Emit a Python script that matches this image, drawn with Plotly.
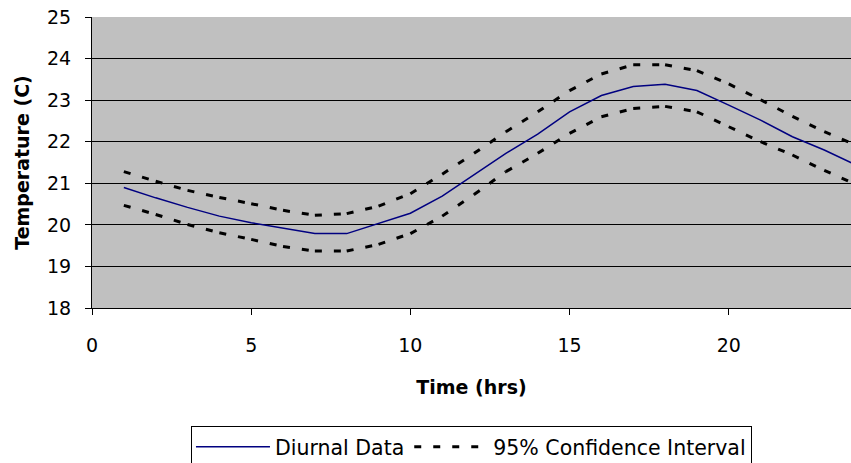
import plotly.graph_objects as go

hours = list(range(1, 25))
diurnal = [20.90, 20.65, 20.42, 20.21, 20.05, 19.92, 19.79, 19.79, 20.04, 20.28,
           20.69, 21.20, 21.72, 22.18, 22.72, 23.11, 23.33, 23.38, 23.23, 22.88,
           22.52, 22.12, 21.80, 21.44]
ci_upper = [21.28, 21.05, 20.83, 20.66, 20.51, 20.35, 20.23, 20.27, 20.45, 20.75,
            21.22, 21.72, 22.24, 22.72, 23.23, 23.63, 23.85, 23.85, 23.71, 23.39,
            23.01, 22.61, 22.24, 21.92]
ci_lower = [20.47, 20.25, 20.01, 19.81, 19.65, 19.48, 19.37, 19.37, 19.53, 19.79,
            20.21, 20.73, 21.28, 21.72, 22.20, 22.60, 22.80, 22.85, 22.72, 22.36,
            22.00, 21.68, 21.31, 20.97]

FONT = "DejaVu Sans"
fig = go.Figure()

fig.add_trace(go.Scatter(x=hours, y=diurnal, mode="lines", name="Diurnal Data",
                         line=dict(color="#000080", width=1.5)))

# Excel restarts the dash pattern on each segment; mimic with per-segment traces
first = True
for series in (ci_upper, ci_lower):
    for i in range(len(hours) - 1):
        fig.add_trace(go.Scatter(
            x=hours[i:i + 2], y=series[i:i + 2], mode="lines",
            name="95% Confidence Interval", legendgroup="ci",
            showlegend=first,
            line=dict(color="black", width=3, dash="7px,12px")))
        first = False

fig.update_layout(
    width=851, height=463,
    margin=dict(l=92, r=0, t=17, b=155, autoexpand=False),
    paper_bgcolor="white", plot_bgcolor="#C0C0C0",
    font=dict(family=FONT, color="black", size=19),
    showlegend=True,
    legend=dict(orientation="h", x=0.1304, y=-0.405, xanchor="left", yanchor="top",
                bordercolor="black", borderwidth=1, bgcolor="white",
                font=dict(family=FONT, size=20.5), itemwidth=74,
                tracegroupgap=0),
    xaxis=dict(range=[0, 23.84], tick0=0, dtick=5, showgrid=False, zeroline=False,
               ticks="outside", ticklen=6, tickcolor="black", showline=True,
               linecolor="black", linewidth=1, ticklabelstandoff=14, automargin=False,
               tickfont=dict(family=FONT, size=19),
               title=dict(text="<b>Time (hrs)</b>", font=dict(family=FONT, size=19),
                          standoff=25)),
    yaxis=dict(range=[18, 25], tick0=18, dtick=1, showgrid=True, gridcolor="black",
               gridwidth=1, zeroline=False, ticks="outside", ticklen=6,
               tickcolor="black", showline=True, linecolor="black", linewidth=1,
               ticklabelstandoff=10, automargin=False,
               tickfont=dict(family=FONT, size=19),
               title=dict(text="<b>Temperature (C)</b>", font=dict(family=FONT, size=19),
                          standoff=12)),
)

fig.write_html("out.html")
